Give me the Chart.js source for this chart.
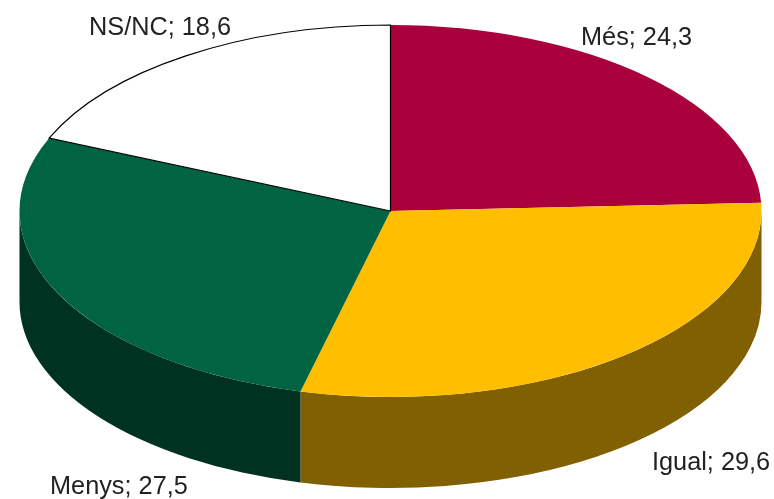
<!DOCTYPE html>
<html>
<head>
<meta charset="utf-8">
<style>
  html, body { margin: 0; padding: 0; background: #fff; }
  canvas { display: block; }
</style>
<script src="https://cdn.jsdelivr.net/npm/chart.js@4/dist/chart.umd.min.js"></script>
</head>
<body>
<canvas id="pie3d" width="774" height="499"></canvas>
<script>
const categories = ['Més', 'Igual', 'Menys', 'NS/NC'];
const values = [24.3, 29.6, 27.5, 18.6];
const topColors = ['#aa003c', '#ffbf00', '#006443', '#ffffff'];
const sideColors = ['#55001e', '#806000', '#003222', '#808080'];

// left x and baseline of each label
const labelSpots = [[581, 45], [652, 470], [50, 494], [89, 35]];

// flattening of the disc and height of its wall
const tilt = 0.5013;
const depth = 91;

// the doughnut controller only gives a flat circle, so squash it here and add the wall
const pie3d = {
  id: 'pie3d',
  beforeDatasetsDraw(chart) {
    const ctx = chart.ctx;
    const arcs = chart.getDatasetMeta(0).data;
    arcs.forEach((arc, i) => {
      const a0 = Math.max(arc.startAngle, 0);
      const a1 = Math.min(arc.endAngle, Math.PI);
      if (a1 <= a0) return;
      const rx = arc.outerRadius;
      const ry = rx * tilt;
      ctx.beginPath();
      ctx.ellipse(arc.x, arc.y, rx, ry, 0, a0, a1);
      ctx.ellipse(arc.x, arc.y + depth, rx, ry, 0, a1, a0, true);
      ctx.closePath();
      ctx.fillStyle = sideColors[i];
      ctx.fill();
    });
    const cy = arcs[0].y;
    ctx.save();
    ctx.translate(0, cy);
    ctx.scale(1, tilt);
    ctx.translate(0, -cy);
  },
  afterDatasetsDraw(chart) {
    const ctx = chart.ctx;
    ctx.restore();

    // black outline only round the white slice
    const arc = chart.getDatasetMeta(0).data[3];
    const ry = arc.outerRadius * tilt;
    ctx.beginPath();
    ctx.moveTo(arc.x, arc.y);
    ctx.ellipse(arc.x, arc.y, arc.outerRadius, ry, 0, arc.startAngle, arc.endAngle);
    ctx.closePath();
    ctx.strokeStyle = '#000';
    ctx.lineWidth = 1.2;
    ctx.stroke();

    ctx.fillStyle = '#222';
    ctx.font = '25.3px "Liberation Sans", Arial, sans-serif';
    ctx.textAlign = 'left';
    ctx.textBaseline = 'alphabetic';
    categories.forEach((name, i) => {
      const text = name + '; ' + values[i].toFixed(1).replace('.', ',');
      ctx.fillText(text, labelSpots[i][0], labelSpots[i][1]);
    });
  }
};

const ctx = document.getElementById('pie3d').getContext('2d');
new Chart(ctx, {
  type: 'pie',
  data: {
    labels: categories,
    datasets: [{
      data: values,
      backgroundColor: topColors,
      borderWidth: 0,
      clip: false
    }]
  },
  options: {
    responsive: false,
    animation: false,
    radius: 371,
    layout: { padding: { left: 7, bottom: 77 } },
    plugins: {
      legend: { display: false },
      tooltip: { enabled: false }
    }
  },
  plugins: [pie3d]
});
</script>
</body>
</html>
